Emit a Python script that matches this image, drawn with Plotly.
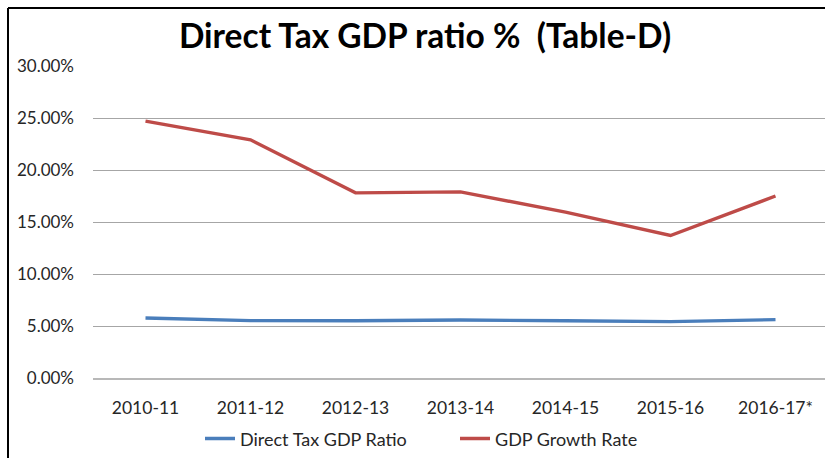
import plotly.graph_objects as go

years = ["2010-11", "2011-12", "2012-13", "2013-14", "2014-15", "2015-16", "2016-17*"]
direct_tax_gdp_ratio = [5.77, 5.52, 5.50, 5.58, 5.50, 5.42, 5.61]
gdp_growth_rate = [24.7, 22.9, 17.8, 17.9, 15.95, 13.7, 17.5]
y_ticks = [0, 5, 10, 15, 20, 25, 30]
y_tick_labels = [f"{v:.2f}%" for v in y_ticks]

W, H = 825, 458
ML, MR, MT, MB = 93, 0, 66, 80
pw = W - ML - MR
ph = H - MT - MB

font_family = "Lato, Open Sans, sans-serif"

fig = go.Figure()
fig.add_trace(go.Scatter(x=years, y=direct_tax_gdp_ratio, mode="lines",
                         name="Direct Tax GDP Ratio",
                         line=dict(color="#4a7ebb", width=3.4)))
fig.add_trace(go.Scatter(x=years, y=gdp_growth_rate, mode="lines",
                         name="GDP Growth Rate",
                         line=dict(color="#be4b48", width=3.4)))

# outer frame (top and left border of the original screenshot)
fx0 = (8 - ML) / pw
fy0 = 1 + (MT - 8) / ph
fig.add_shape(type="line", xref="paper", yref="paper", x0=fx0, x1=1 + 5 / pw, y0=fy0, y1=fy0,
              line=dict(color="black", width=2))
fig.add_shape(type="line", xref="paper", yref="paper", x0=fx0, x1=fx0, y0=fy0, y1=-MB / ph - 0.05,
              line=dict(color="black", width=2))

fig.update_layout(
    width=W, height=H,
    margin=dict(l=ML, r=MR, t=MT, b=MB),
    paper_bgcolor="white", plot_bgcolor="white",
    title=dict(text="<b>Direct Tax GDP ratio %  (Table-D)</b>", x=425 / W, xanchor="center",
               y=1 - 36 / H, yanchor="middle",
               font=dict(family=font_family, size=33.5, color="black")),
    xaxis=dict(type="category", range=[-0.5, pw / 105 - 0.5], showgrid=False,
               showline=True, linecolor="#b8b8b8", linewidth=2,
               ticks="", tickfont=dict(family=font_family, size=17.5, color="#262626"),
               ticklabelstandoff=13),
    yaxis=dict(range=[0, 30], tickvals=y_ticks, ticktext=y_tick_labels,
               showgrid=True, gridcolor="#a6a6a6", gridwidth=1, zeroline=False,
               showline=False, ticks="", ticklabelstandoff=18,
               tickfont=dict(family=font_family, size=17, color="#262626")),
    showlegend=True,
    legend=dict(orientation="h", x=(200 - ML) / pw, xanchor="left", y=-0.195, yanchor="middle",
                font=dict(family=font_family, size=18, color="#262626"),
                itemwidth=30, tracegroupgap=0, entrywidthmode="pixels", entrywidth=210),
)

fig.write_html("out.html")
